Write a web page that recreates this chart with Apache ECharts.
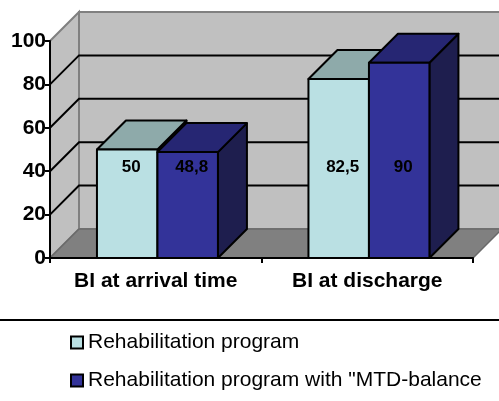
<!DOCTYPE html>
<html>
<head>
<meta charset="utf-8">
<script src="https://cdn.jsdelivr.net/npm/echarts@6/dist/echarts.min.js"></script>
<style>
  html, body { margin: 0; padding: 0; background: #fff; }
  #chart { width: 499px; height: 401px; }
</style>
</head>
<body>
<div id="chart"></div>
<script>
// data
const categories = ['BI at arrival time', 'BI at discharge'];
const seriesNames = ['Rehabilitation program', 'Rehabilitation program with "MTD-balance'];
const rehabValues = [50, 82.5];
const mtdValues = [48.8, 90];
const gridTicks = [20, 40, 60, 80];

// 3d look
const FONT = '"Liberation Sans", Arial, sans-serif';
const DX = 29, DY = 29;
const LABEL_AT = 42;
const faces = [
  { front: '#BAE0E3', top: '#8EAAAA', side: '#7A9A9C' },
  { front: '#333399', top: '#262673', side: '#1E1E4E' }
];

function fmt(v) { return String(v).replace('.', ','); }

// walls, floor, gridlines
function renderBack(params, api) {
  const cs = params.coordSys;
  const x0 = cs.x, x1 = cs.x + cs.width;
  const yb = api.coord([0, 0])[1];
  const yt = api.coord([0, 100])[1];
  const kids = [];
  kids.push({ type: 'polygon', shape: { points: [[x0 + DX, yt - DY], [x1 + DX, yt - DY], [x1 + DX, yb - DY], [x0 + DX, yb - DY]] },
    style: { fill: '#C0C0C0', stroke: '#808080', lineWidth: 2 } });
  kids.push({ type: 'polygon', shape: { points: [[x0, yt], [x0 + DX, yt - DY], [x0 + DX, yb - DY], [x0, yb]] },
    style: { fill: '#C0C0C0', stroke: '#808080', lineWidth: 2 } });
  kids.push({ type: 'polygon', shape: { points: [[x0, yb], [x1, yb], [x1 + DX, yb - DY], [x0 + DX, yb - DY]] },
    style: { fill: '#808080', stroke: '#6a6a6a', lineWidth: 1.5 } });
  gridTicks.forEach(function (v) {
    const y = api.coord([0, v])[1];
    kids.push({ type: 'polyline', shape: { points: [[x0, y], [x0 + DX, y - DY], [x1 + DX + 5, y - DY]] },
      style: { fill: null, stroke: '#000', lineWidth: 2 } });
  });
  return { type: 'group', children: kids };
}

function barRenderer(idx) {
  return function (params, api) {
    const cat = api.value(0), val = api.value(1);
    const band = api.size([1, 0])[0];
    const base = api.coord([cat, 0]);
    const top = api.coord([cat, val]);
    const w = band * 0.286;
    const x0 = base[0] - band * 0.278 + idx * w;
    const x1 = x0 + w;
    const yt = top[1], yb = base[1];
    const c = faces[idx];
    const st = { stroke: '#000', lineWidth: 2, lineJoin: 'round' };
    return { type: 'group', children: [
      { type: 'polygon', shape: { points: [[x1, yt], [x1 + DX, yt - DY], [x1 + DX, yb - DY], [x1, yb]] },
        style: Object.assign({ fill: c.side }, st) },
      { type: 'polygon', shape: { points: [[x0, yt], [x1, yt], [x1 + DX, yt - DY], [x0 + DX, yt - DY]] },
        style: Object.assign({ fill: c.top }, st) },
      { type: 'rect', shape: { x: x0, y: yt, width: w, height: yb - yt },
        style: Object.assign({ fill: c.front }, st) },
      { type: 'text', x: x0 + w / 2 + 4, y: api.coord([cat, LABEL_AT])[1],
        style: { text: fmt(val), fill: '#000', font: 'bold 17px ' + FONT, align: 'center', verticalAlign: 'middle' } }
    ] };
  };
}

const chart = echarts.init(document.getElementById('chart'));
chart.setOption({
  animation: false,
  backgroundColor: '#fff',
  grid: { left: 50, right: 26, top: 41, bottom: 143 },
  legend: {
    orient: 'vertical', left: 70, top: 332, padding: 0,
    itemWidth: 12, itemHeight: 12, itemGap: 17,
    textStyle: { fontFamily: FONT, fontSize: 21, color: '#000' },
    data: [
      { name: seriesNames[0], icon: 'rect', itemStyle: { color: faces[0].front, borderColor: '#000', borderWidth: 2 } },
      { name: seriesNames[1], icon: 'rect', itemStyle: { color: faces[1].front, borderColor: '#000', borderWidth: 2 } }
    ]
  },
  graphic: [
    { type: 'line', shape: { x1: 0, y1: 320, x2: 499, y2: 320 }, style: { stroke: '#000', lineWidth: 2 } }
  ],
  xAxis: {
    type: 'category', data: categories, z: 10,
    axisLine: { lineStyle: { color: '#000', width: 2 } },
    axisTick: { show: true, length: 5, lineStyle: { color: '#000', width: 2 } },
    axisLabel: { interval: 0, hideOverlap: false, color: '#000', fontFamily: FONT, fontWeight: 'bold', fontSize: 21, margin: 13 }
  },
  yAxis: {
    type: 'value', min: 0, max: 100, interval: 20, z: 10,
    axisLine: { show: true, lineStyle: { color: '#000', width: 2 } },
    axisTick: { show: true, length: 5, lineStyle: { color: '#000', width: 2 } },
    splitLine: { show: false },
    axisLabel: { color: '#000', fontFamily: FONT, fontWeight: 'bold', fontSize: 21, margin: 4 }
  },
  series: [
    { type: 'custom', name: 'bg', z: 1, silent: true, renderItem: renderBack, data: [[0, 0]] },
    { type: 'custom', name: seriesNames[0], z: 2, renderItem: barRenderer(0),
      itemStyle: { color: faces[0].front },
      data: rehabValues.map(function (v, i) { return [i, v]; }) },
    { type: 'custom', name: seriesNames[1], z: 3, renderItem: barRenderer(1),
      itemStyle: { color: faces[1].front },
      data: mtdValues.map(function (v, i) { return [i, v]; }) }
  ]
});
</script>
</body>
</html>
